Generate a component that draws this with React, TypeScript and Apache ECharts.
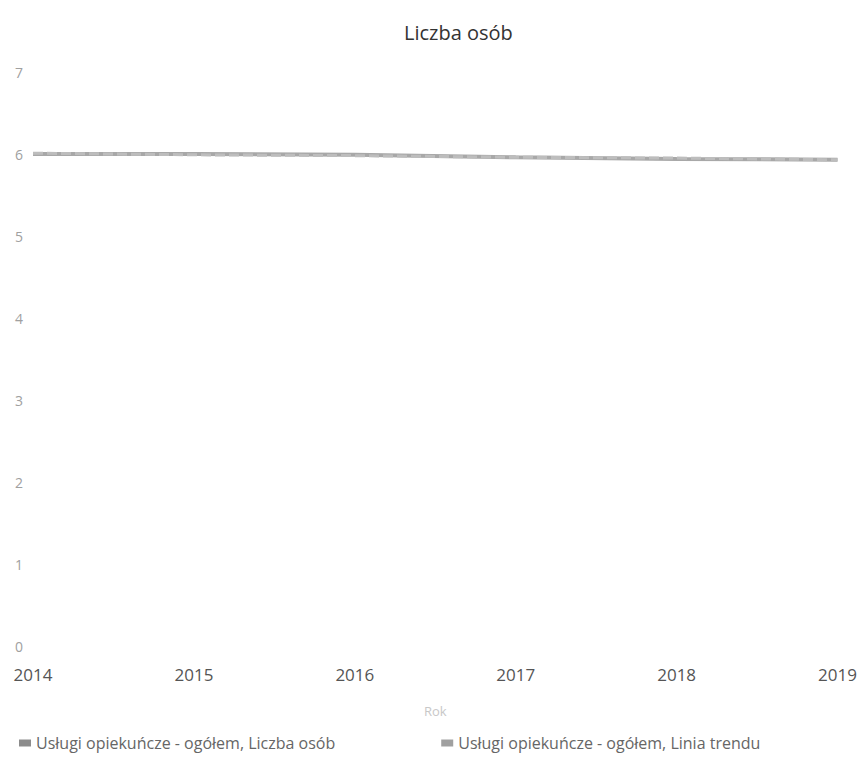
import React, { useEffect, useRef } from "react";
import * as echarts from "echarts";

const years = ["2014", "2015", "2016", "2017", "2018", "2019"];
const liczbaOsob = [6.0, 6.0, 5.99, 5.96, 5.94, 5.93];
const liniaTrendu = [6.01, 5.99, 5.98, 5.96, 5.95, 5.93];
const seriesNames = [
  "Usługi opiekuńcze - ogółem, Liczba osób",
  "Usługi opiekuńcze - ogółem, Linia trendu",
];

export default function App() {
  const ref = useRef<HTMLDivElement>(null);
  useEffect(() => {
    if (!ref.current) return;
    const chart = echarts.init(ref.current, undefined, { renderer: "svg" });
    chart.setOption({
      animation: false,
      backgroundColor: "#ffffff",
      textStyle: { fontFamily: "Open Sans" },
      title: {
        text: "Liczba osób",
        left: 391,
        top: 9,
        textStyle: { fontSize: 20, fontWeight: "normal", color: "#333", fontFamily: "Open Sans" },
      },
      grid: { left: 25, right: 14, top: 64, bottom: 114 },
      xAxis: {
        type: "category",
        data: years,
        boundaryGap: false,
        name: "Rok",
        nameLocation: "middle",
        nameGap: 58,
        nameTextStyle: { color: "#c8c8c8", fontSize: 13 },
        axisLine: { show: false },
        axisTick: { show: false },
        axisLabel: { color: "#555", fontSize: 17, margin: 20 },
        splitLine: { show: false },
      },
      yAxis: {
        type: "value",
        min: 0,
        max: 7,
        interval: 1,
        axisLine: { show: false },
        axisTick: { show: false },
        axisLabel: { color: "#a0a0a0", fontSize: 14, margin: 10, align: "right" },
        splitLine: { show: false },
      },
      legend: {
        left: 6,
        top: 722,
        itemGap: 106,
        icon: "rect",
        itemWidth: 12,
        itemHeight: 7,
        textStyle: { color: "#666", fontSize: 16 },
        data: seriesNames,
      },
      series: [
        {
          name: seriesNames[0],
          type: "line",
          data: liczbaOsob,
          showSymbol: false,
          symbol: "none",
          lineStyle: { color: "#a8a8a8", width: 4 },
          itemStyle: { color: "#8c8c8c" },
        },
        {
          name: seriesNames[1],
          type: "line",
          data: liniaTrendu,
          showSymbol: false,
          symbol: "none",
          lineStyle: { color: "#bdbdbd", width: 3, type: [10, 4] },
          itemStyle: { color: "#a0a0a0" },
        },
      ],
    });
    return () => chart.dispose();
  }, []);
  return <div ref={ref} style={{ width: 852, height: 752 }} />;
}
